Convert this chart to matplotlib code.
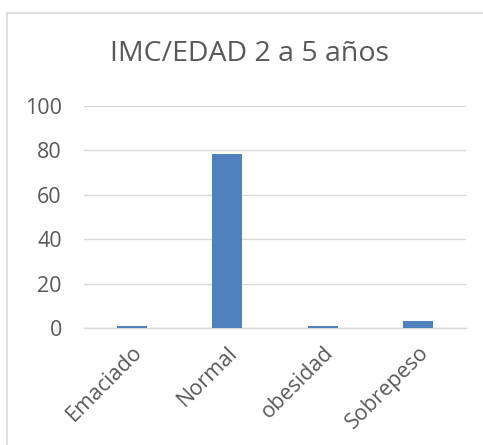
import matplotlib.pyplot as plt
from matplotlib.patches import Rectangle

# ---------------------------------------------------------------------------
# Data
# ---------------------------------------------------------------------------

CATEGORIES = ["Emaciado", "Normal", "obesidad", "Sobrepeso"]
VALUES     = [1, 78, 1, 3]
Y_TICKS    = [0, 20, 40, 60, 80, 100]
TITLE      = "IMC/EDAD 2 a 5 años"

BAR_COLOR  = "#4f81bd"
GRID_COLOR = "#d9d9d9"
TEXT_COLOR = "#595959"

W, H = 483, 445

plt.rcParams["font.family"] = ["Open Sans", "DejaVu Sans"]

fig = plt.figure(figsize=(W / 100, H / 100), dpi=100)

# chart area border (runs off the right and bottom edges)
fig.patches.append(Rectangle((7 / W, -0.1), 1.2, (H - 13) / H + 0.1,
                             transform=fig.transFigure, fill=False,
                             edgecolor=GRID_COLOR, linewidth=1.2))

ax = fig.add_axes([84 / W, (H - 328) / H, (466 - 84) / W, (328 - 105.5) / H])

x = range(len(CATEGORIES))
ax.bar(x, VALUES, width=0.31, color=BAR_COLOR, zorder=3)

ax.set_xlim(-0.5, len(CATEGORIES) - 0.5)
ax.set_ylim(0, 100)
ax.set_yticks(Y_TICKS)
ax.yaxis.grid(True, color=GRID_COLOR, linewidth=1)
ax.set_axisbelow(True)

for side in ["top", "right", "left"]:
    ax.spines[side].set_visible(False)
ax.spines["bottom"].set_color(GRID_COLOR)
ax.spines["bottom"].set_linewidth(1)

ax.tick_params(axis="both", length=0, colors=TEXT_COLOR, labelsize=15.5)
ax.tick_params(axis="y", pad=16)
ax.set_xticks(list(x))
ax.set_xticklabels(CATEGORIES, rotation=45, ha="right", rotation_mode="anchor")
ax.tick_params(axis="x", pad=10)

fig.text(250 / W, 1 - 54 / H, TITLE, ha="center", va="center",
         fontsize=20.5, color=TEXT_COLOR)

fig.savefig("out.png", dpi=100)
